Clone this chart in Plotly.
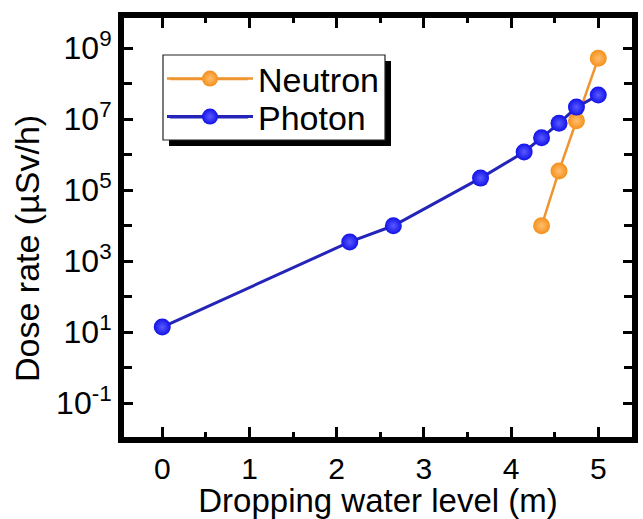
import plotly.graph_objects as go

# ---- data ----
neutron_x = [4.35, 4.55, 4.75, 5.0]
neutron_y = [1.0e4, 3.5e5, 9.1e6, 5.2e8]
photon_x = [0, 2.15, 2.65, 3.65, 4.15, 4.35, 4.55, 4.75, 5.0]
photon_y = [14, 3.5e3, 1.0e4, 2.2e5, 1.2e6, 3.0e6, 7.7e6, 2.2e7, 4.8e7]
series_names = ["Neutron", "Photon"]
x_ticks = [0, 1, 2, 3, 4, 5]
y_major_exponents = [-1, 1, 3, 5, 7, 9]
y_minor_exponents = [-2, 0, 2, 4, 6, 8]
x_title = "Dropping water level (m)"
y_title = "Dose rate (µSv/h)"

W, H = 643, 519
L, R, T, B = 124, 11, 18, 82
FONT = "Arial, Liberation Sans, sans-serif"
NEUTRON_C, NEUTRON_L = "#F5901A", "#EE9430"
PHOTON_C, PHOTON_L = "#1212EA", "#2424B8"

pw, ph = W - L - R, H - T - B
def px_to_paper(xp, yp):
    return (xp - L) / pw, (H - B - yp) / ph

fig = go.Figure()
fig.add_trace(go.Scatter(
    x=neutron_x, y=neutron_y, name=series_names[0], mode="lines+markers",
    line=dict(color=NEUTRON_L, width=2.5),
    marker=dict(size=17, color=NEUTRON_C, line=dict(width=0),
                gradient=dict(type="radial", color="#FFBE70")),
    legend="legend",
))
fig.add_trace(go.Scatter(
    x=photon_x, y=photon_y, name=series_names[1], mode="lines+markers",
    line=dict(color=PHOTON_L, width=3),
    marker=dict(size=17, color=PHOTON_C, line=dict(width=0),
                gradient=dict(type="radial", color="#5A5AFF")),
    legend="legend2",
))

tickvals = [10.0 ** e for e in y_major_exponents]
ticktext = ["10<sup>%d</sup>" % e for e in y_major_exponents]
minor_vals = [10.0 ** e for e in y_minor_exponents]

axis_common = dict(
    showline=True, linecolor="black", linewidth=6, mirror="allticks",
    ticks="inside", tickcolor="black", tickwidth=3, showgrid=False, zeroline=False,
    automargin=False,
)

fig.update_xaxes(
    range=[-0.439, 5.387], tickvals=x_ticks, ticklen=10,
    tickfont=dict(family=FONT, size=30, color="black"),
    minor=dict(dtick=0.5, ticks="inside", ticklen=5, tickwidth=3, tickcolor="black"),
    title=dict(text=x_title, font=dict(family=FONT, size=33, color="black"), standoff=8),
    **axis_common,
)
fig.update_yaxes(
    type="log", range=[-1.95, 9.853], tickvals=tickvals, ticktext=ticktext, ticklen=9,
    tickfont=dict(family=FONT, size=32, color="black"),
    minor=dict(tickvals=minor_vals, ticks="inside", ticklen=8, tickwidth=3,
               tickcolor="black", showgrid=False),
    **axis_common,
)

# y-axis title as rotated text (positioned like the reference)
tx, ty = px_to_paper(27, 249)
fig.add_annotation(text=y_title, xref="paper", yref="paper", x=tx, y=ty,
                   xanchor="center", yanchor="middle", textangle=-90, showarrow=False,
                   font=dict(family=FONT, size=34, color="black"))

# legend frame with drop shadow
sx0, sy0 = px_to_paper(169, 61)
sx1, sy1 = px_to_paper(391, 146)
fig.add_shape(type="rect", xref="paper", yref="paper", x0=sx0, y0=sy1, x1=sx1, y1=sy0,
              fillcolor="black", line=dict(width=0), layer="above")
bx0, by0 = px_to_paper(163, 55)
bx1, by1 = px_to_paper(385, 140)
fig.add_shape(type="rect", xref="paper", yref="paper", x0=bx0, y0=by1, x1=bx1, y1=by0,
              fillcolor="white", line=dict(color="#222222", width=1.2), layer="above")
# full-length legend sample lines
for row_y, col, wdt in [(79, NEUTRON_L, 2.5), (117, PHOTON_L, 3)]:
    lx0, ly0 = px_to_paper(170, row_y)
    lx1, _ = px_to_paper(248, row_y)
    fig.add_shape(type="line", xref="paper", yref="paper", x0=lx0, y0=ly0, x1=lx1, y1=ly0,
                  line=dict(color=col, width=wdt), layer="above")

leg_common = dict(xanchor="left", yanchor="middle", bgcolor="rgba(0,0,0,0)",
                  borderwidth=0, font=dict(family=FONT, size=34, color="black"),
                  itemwidth=86)
l1x, l1y = px_to_paper(162, 79)
l2x, l2y = px_to_paper(162, 117)

fig.update_layout(
    width=W, height=H, margin=dict(l=L, r=R, t=T, b=B),
    paper_bgcolor="white", plot_bgcolor="white",
    font=dict(family=FONT, color="black"),
    legend=dict(x=l1x, y=l1y, **leg_common),
    legend2=dict(x=l2x, y=l2y, **leg_common),
    showlegend=True,
)

fig.write_html("out.html")
